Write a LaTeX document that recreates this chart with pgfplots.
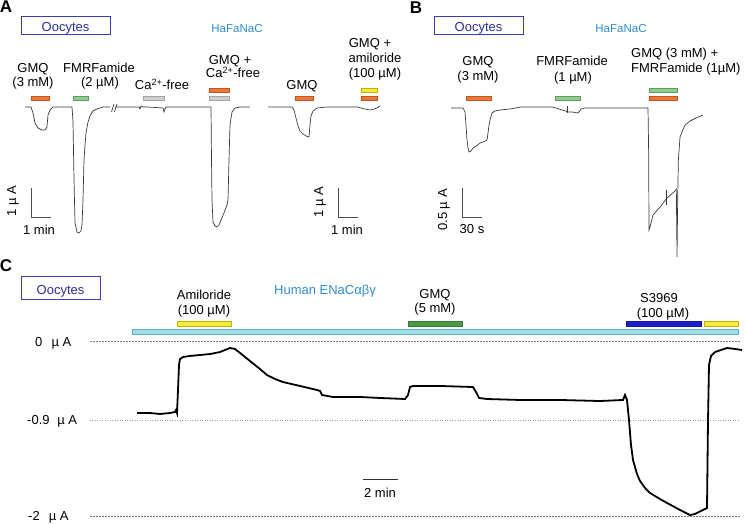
\documentclass[border=0pt]{standalone}
\usepackage{fontspec}
\setmainfont{Liberation Sans}
\usepackage{pgfplots}
\pgfplotsset{compat=1.18}

\definecolor{boxblue}{HTML}{3A3AC0}
\definecolor{ootext}{HTML}{2B2BA0}
\definecolor{hafblue}{HTML}{2F8BD6}
\definecolor{orfill}{HTML}{E9783A}
\definecolor{ordraw}{HTML}{C0561E}
\definecolor{grfill}{HTML}{8FCB8F}
\definecolor{grdraw}{HTML}{5E9E5E}
\definecolor{gyfill}{HTML}{CDCDCD}
\definecolor{gydraw}{HTML}{A5A5A5}
\definecolor{ylfill}{HTML}{F4EA3A}
\definecolor{yldraw}{HTML}{C4B000}
\definecolor{cyfill}{HTML}{A3DCE4}
\definecolor{cydraw}{HTML}{5DB3C4}
\definecolor{dkgreen}{HTML}{4A9A45}
\definecolor{dkblue}{HTML}{1E1EC8}
\definecolor{trace}{HTML}{3A3A3A}

\pgfplotsset{
  panel/.style={scale only axis, width=745pt, height=523pt, at={(0,0)},
    anchor=south west, hide axis, clip=false},
  rec/.style={trace, line width=0.7pt},
}
% drug application bar: fill, draw, t1, t2, y1, y2
\newcommand{\drugbar}[6]{\addplot[fill=#1, draw=#2, line width=0.5pt]
  coordinates {(#3,#5) (#4,#5) (#4,#6) (#3,#6)} --cycle;}

\begin{document}
\begin{tikzpicture}
% ---- A: current in uA, time in min
\begin{axis}[panel, xmin=-1.25, xmax=36, ymin=-14.3448, ymax=3.6897]
  \addplot[rec] coordinates {(0,0) (0.3,0) (0.4,-0.207) (0.5,-0.552) (0.65,-0.724)
    (0.85,-0.793) (1.0,-0.793) (1.1,-0.69) (1.15,-0.276) (1.25,-0.103) (1.4,0)
    (2.3,0) (2.35,0) (2.4,-0.5) (2.45,-2.5) (2.5,-4.0) (2.6,-4.31) (2.7,-4.345)
    (2.8,-4.276) (2.85,-4.069) (2.9,-3.207) (2.95,-1.828) (3.0,-1.31) (3.05,-0.897)
    (3.15,-0.517) (3.25,-0.31) (3.4,-0.138) (3.6,-0.069) (3.9,0) (4.25,0)};
  \addplot[rec] coordinates {(4.5,0) (5.7,0) (5.75,-0.069) (5.8,0.0345) (5.9,0)
    (6.15,0) (6.9,-0.0345) (6.95,-0.172) (7.0,-0.069) (7.05,0) (9.25,0) (9.3,0)
    (9.32,-1.483) (9.35,-3.207) (9.4,-3.966) (9.5,-4.103) (9.6,-4.138) (9.7,-4.069)
    (9.8,-3.897) (9.95,-3.655) (10.1,-3.379) (10.15,-3.207) (10.2,-1.828)
    (10.25,-0.621) (10.35,-0.172) (10.5,-0.0345) (10.75,0) (11.25,0)};
  \addplot[rec] coordinates {(12.15,0) (13.35,0) (13.45,-0.103) (13.55,-0.379)
    (13.65,-0.655) (13.75,-0.828) (13.9,-0.931) (14.05,-1.0) (14.2,-1.034)
    (14.25,-0.621) (14.3,-0.31) (14.4,-0.138) (14.6,-0.0345) (15.1,0) (16.65,0)
    (16.8,-0.0345) (17.0,-0.069) (17.25,-0.103) (17.45,-0.069) (17.6,-0.0345)
    (17.75,0.0345)};
  \drugbar{orfill}{ordraw}{0.3}{1.2}{0.379}{0.241}
  \drugbar{grfill}{grdraw}{2.4}{3.15}{0.379}{0.241}
  \drugbar{gyfill}{gydraw}{5.9}{6.95}{0.379}{0.241}
  \drugbar{orfill}{ordraw}{9.2}{10.2}{0.655}{0.517}
  \drugbar{gyfill}{gydraw}{9.2}{10.2}{0.379}{0.241}
  \drugbar{orfill}{ordraw}{13.5}{14.4}{0.379}{0.241}
  \drugbar{ylfill}{yldraw}{16.8}{17.6}{0.655}{0.517}
  \drugbar{orfill}{ordraw}{16.8}{17.6}{0.379}{0.241}
  % scale bars 1 uA / 1 min
  \addplot[black!70, line width=0.8pt] coordinates {(0.3,-2.793) (0.3,-3.793) (1.3,-3.793)};
  \addplot[black!70, line width=0.8pt] coordinates {(15.65,-2.793) (15.65,-3.793) (16.65,-3.793)};
\end{axis}
% ---- B: current in uA, time in s
\begin{axis}[panel, xmin=-676.5, xmax=441, ymin=-7.1552, ymax=1.8621]
  \addplot[rec] coordinates {(0,0) (18,0) (21,-0.069) (22.5,-0.2931) (24,-0.5517)
    (25.5,-0.6897) (27,-0.7586) (30,-0.7414) (33,-0.6897) (37.5,-0.66) (43.5,-0.6034)
    (49.5,-0.58) (54,-0.5517) (55.5,-0.431) (57,-0.2931) (58.5,-0.2069) (61.5,-0.0862)
    (66,-0.0517) (73.5,-0.0345) (88.5,-0.0172) (105,0.0172) (151.5,0.0172) (157.5,0)
    (166.5,-0.0345) (172.5,-0.0517) (174,-0.069) (181.5,-0.069) (189,-0.0862)
    (192,-0.069) (195,-0.0172) (201,0) (223.5,0) (295.5,0) (296.5,-0.8) (297,-2.1034)
    (298.5,-2.0517) (303,-1.8448) (313.5,-1.7069) (324,-1.5517) (336,-1.431)
    (338,-1.40) (339,-2.569) (340,-1.6) (341,-0.9) (343.5,-0.5) (346.5,-0.4138)
    (351,-0.2931) (358.5,-0.2241) (367.5,-0.1724) (378,-0.1207)};
  \addplot[rec] coordinates {(174,0.0345) (174,-0.0862)};
  \addplot[rec] coordinates {(322.5,-1.414) (322.5,-1.672)};
  \drugbar{orfill}{ordraw}{22.5}{60}{0.207}{0.138}
  \drugbar{grfill}{grdraw}{156}{193.5}{0.207}{0.138}
  \drugbar{grfill}{grdraw}{297}{339}{0.345}{0.276}
  \drugbar{orfill}{ordraw}{297}{339}{0.207}{0.138}
  % scale bar 0.5 uA / 30 s
  \addplot[black!70, line width=0.8pt] coordinates {(16.5,-1.3793) (16.5,-1.8793) (46.5,-1.8793)};
\end{axis}
% ---- C: current in uA, time in min
\begin{axis}[panel, xmin=-7.8286, xmax=34.7429, ymin=-2.08, ymax=3.8971]
  \addplot[gray, line width=0.5pt, dash pattern=on 2pt off 1pt] coordinates {(-2.686,0) (34.457,0)};
  \addplot[gray!80, line width=0.5pt, dotted] coordinates {(-2.686,-0.9) (34.457,-0.9)};
  \addplot[gray!90!black, line width=0.5pt, dash pattern=on 2pt off 1pt] coordinates {(-2.686,-2) (34.457,-2)};
  \addplot[black, line width=1.8pt] coordinates {(0,-0.823) (0.743,-0.823)
    (1.314,-0.834) (1.886,-0.823) (2.171,-0.811) (2.229,-0.789) (2.286,-0.823)
    (2.343,-0.56) (2.4,-0.274) (2.457,-0.206) (2.629,-0.183) (3.029,-0.171)
    (3.6,-0.16) (4.171,-0.149) (4.743,-0.126) (5.029,-0.103) (5.314,-0.08)
    (5.6,-0.091) (5.886,-0.137) (6.457,-0.229) (7.029,-0.32) (7.429,-0.389)
    (7.886,-0.434) (8.343,-0.469) (9.314,-0.514) (10.286,-0.56) (10.457,-0.571)
    (10.571,-0.617) (11.2,-0.64) (12.743,-0.64) (13.886,-0.651) (15.314,-0.663)
    (15.486,-0.617) (15.6,-0.526) (15.771,-0.514) (17.314,-0.514) (19.2,-0.526)
    (19.371,-0.583) (19.543,-0.651) (20.0,-0.663) (21.886,-0.674) (24.171,-0.674)
    (26.457,-0.686) (27.771,-0.674) (27.886,-0.617) (28.0,-0.674) (28.114,-0.903)
    (28.229,-1.189) (28.343,-1.36) (28.571,-1.52) (28.743,-1.6) (29.029,-1.68)
    (29.314,-1.737) (29.886,-1.806) (30.286,-1.851) (31.029,-1.931) (31.6,-1.989)
    (31.886,-1.977) (32.343,-1.931) (32.571,-1.909) (32.629,-0.903) (32.686,-0.274)
    (32.8,-0.171) (33.029,-0.126) (33.714,-0.08) (34.171,-0.091) (34.571,-0.103)};
  \drugbar{cyfill}{cydraw}{-0.286}{34.343}{0.137}{0.08}
  \drugbar{ylfill}{yldraw}{2.286}{5.371}{0.229}{0.171}
  \drugbar{dkgreen}{dkgreen!80!black}{15.486}{18.571}{0.229}{0.171}
  \drugbar{dkblue}{dkblue!80!black}{27.943}{32.229}{0.229}{0.171}
  \drugbar{ylfill}{yldraw}{32.4}{34.343}{0.229}{0.171}
  % scale bar 2 min
  \addplot[black!80, line width=0.8pt] coordinates {(12.914,-1.577) (14.914,-1.577)};
\end{axis}
% ---- labels, placed in picture units (1pt per pixel, y down from top)
\begin{scope}[shift={(0,523pt)}, x=1pt, y=-1pt,
  every node/.style={inner sep=0pt, anchor=base, font=\fontsize{13}{15}\selectfont}]
  \node[font=\fontsize{17}{19}\selectfont\bfseries] at (6,13) {A};
  \node[font=\fontsize{17}{19}\selectfont\bfseries] at (416,14) {B};
  \node[font=\fontsize{17}{19}\selectfont\bfseries] at (6,272) {C};
  \draw[boxblue, line width=1pt] (21,17) rectangle (110,35);
  \draw[boxblue, line width=1pt] (434,17) rectangle (523,35);
  \draw[boxblue, line width=1pt] (21,277) rectangle (100,300);
  \node[text=ootext] at (65.5,32) {Oocytes};
  \node[text=ootext] at (478.5,32) {Oocytes};
  \node[text=ootext] at (60.5,294) {Oocytes};
  \node[text=hafblue, font=\fontsize{11.5}{13}\selectfont] at (237,33) {HaFaNaC};
  \node[text=hafblue, font=\fontsize{11.5}{13}\selectfont] at (621,33) {HaFaNaC};
  \node[text=hafblue] at (325,295) {Human ENaCαβγ};
  % panel A
  \node at (33,73) {GMQ};
  \node at (33,87) {(3 mM)};
  \node at (99,73) {FMRFamide};
  \node at (100,87) {(2 µM)};
  \node at (162,90) {Ca\textsuperscript{2+}-free};
  \node at (230,65) {GMQ +};
  \node at (233,78) {Ca\textsuperscript{2+}-free};
  \node at (302,90) {GMQ};
  \node at (370,48) {GMQ +};
  \node at (375,63) {amiloride};
  \node at (375,78) {(100 µM)};
  \node[anchor=center, rotate=90] at (13,201) {1 µ A};
  \node at (39,235) {1 min};
  \node[anchor=center, rotate=90] at (320,202) {1 µ A};
  \node at (347,235) {1 min};
  \draw[trace, line width=0.7pt] (111.5,112) -- (114,104) (114.5,112) -- (117,104);
  % panel B
  \node at (478,66) {GMQ};
  \node at (478,81) {(3 mM)};
  \node at (572,66) {FMRFamide};
  \node at (573,82) {(1 µM)};
  \node[anchor=base west] at (631,58) {GMQ (3 mM) +};
  \node[anchor=base west] at (631,73) {FMRFamide (1µM)};
  \node[anchor=center, rotate=90] at (444,210) {0.5 µ A};
  \node at (472,234) {30 s};
  % panel C
  \node at (204,300) {Amiloride};
  \node at (204,315) {(100 µM)};
  \node at (435,298) {GMQ};
  \node at (435,312) {(5 mM)};
  \node at (659,303) {S3969};
  \node at (663,318) {(100 µM)};
  \node[anchor=base west] at (35,346) {0\hspace{0.7em}µ A};
  \node[anchor=base west] at (27,424) {-0.9\hspace{0.6em}µ A};
  \node[anchor=base west] at (28,520) {-2\hspace{0.7em}µ A};
  \node at (380,497) {2 min};
\end{scope}
\pgfresetboundingbox
\useasboundingbox (0,0) rectangle (745pt,523pt);
\end{tikzpicture}
\end{document}
